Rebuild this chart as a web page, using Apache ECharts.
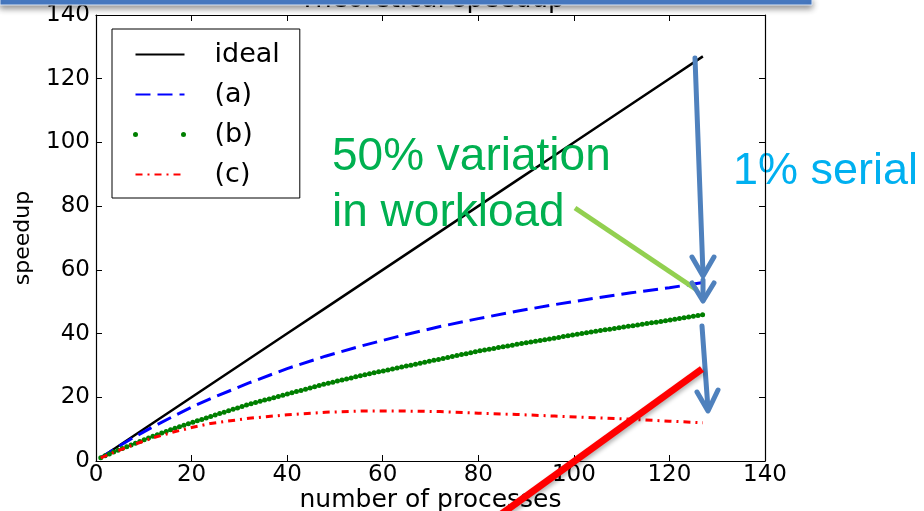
<!DOCTYPE html>
<html><head><meta charset="utf-8">
<script src="https://cdn.jsdelivr.net/npm/echarts@6/dist/echarts.min.js"></script>
<style>html,body{margin:0;padding:0;background:#fff}#c{width:924px;height:511px}</style>
</head><body><div id="c"></div>
<script>
// ---- data ----
const titleText = 'Theoretical speedup';
const xName = 'number of processes';
const yName = 'speedup';
const seriesNames = ['ideal', '(a)', '(b)', '(c)'];
const processes = [1, 2, 4, 8, 12, 16, 20, 24, 32, 40, 48, 56, 64, 72, 80, 88, 96, 104, 112, 120, 127];
const idealSpeedup = [1, 2, 4, 8, 12, 16, 20, 24, 32, 40, 48, 56, 64, 72, 80, 88, 96, 104, 112, 120, 127];
const speedupA = [1, 1.98, 3.9, 7.5, 10.8, 13.9, 16.9, 19.6, 24.5, 29.0, 32.9, 36.3, 39.4, 42.2, 44.7, 47.0, 49.1, 51.0, 52.8, 54.4, 56.0];
const speedupB = [1, 1.7, 3.0, 5.4, 7.8, 10.0, 12.0, 14.0, 17.8, 21.0, 24.2, 27.0, 29.5, 32.0, 34.5, 36.6, 38.6, 40.6, 42.4, 44.2, 45.9];
const speedupC = [1, 1.6, 2.9, 5.2, 7.3, 9.0, 10.5, 11.8, 13.4, 14.5, 15.3, 15.7, 15.7, 15.5, 15.0, 14.6, 14.1, 13.6, 13.1, 12.5, 12.0];
const axisMin = 0, axisMax = 140, tickStep = 20;
const note1 = ['50% variation', 'in workload'];
const note2 = '1% serial';

const pairs = ys => processes.map((p, i) => [p, ys[i]]);
const chartFont = 'DejaVu Sans';
const slideFont = 'Liberation Sans, Arial, sans-serif';

const baseX = {
  type: 'value', min: axisMin, max: axisMax, interval: tickStep,
  axisLine: { show: true, onZero: false, lineStyle: { color: '#000', width: 1.2 } },
  axisTick: { show: true, inside: true, length: 6, lineStyle: { color: '#000' } },
  splitLine: { show: false }
};
const chart = echarts.init(document.getElementById('c'));
chart.setOption({
  animation: false,
  backgroundColor: '#fff',
  title: {
    text: titleText, left: 432, top: -13, textAlign: 'center', padding: 0,
    textStyle: { fontFamily: chartFont, fontSize: 26, fontWeight: 'normal', color: '#000' }
  },
  grid: { left: 96, right: 159, top: 15, bottom: 50, containLabel: false, outerBoundsMode: 'none' },
  xAxis: [
    Object.assign({}, baseX, {
      position: 'bottom', name: xName, nameLocation: 'middle', nameGap: 27, nameMoveOverlap: false,
      nameTextStyle: { fontFamily: chartFont, fontSize: 25, color: '#000' },
      axisLabel: { margin: 3, fontFamily: chartFont, fontSize: 23, color: '#000' }
    }),
    Object.assign({}, baseX, { position: 'top', axisLabel: { show: false } })
  ],
  yAxis: [
    Object.assign({}, baseX, {
      position: 'left', name: yName, nameLocation: 'middle', nameGap: 62, nameRotate: 90, nameMoveOverlap: false,
      nameTextStyle: { fontFamily: chartFont, fontSize: 22, color: '#000' },
      axisLabel: { margin: 6, fontFamily: chartFont, fontSize: 23, color: '#000' }
    }),
    Object.assign({}, baseX, { position: 'right', axisLabel: { show: false } })
  ],
  legend: {
    orient: 'vertical', left: 112, top: 29,
    padding: [12, 20, 10, 21], itemGap: 13, itemWidth: 49, itemHeight: 28,
    borderColor: '#000', borderWidth: 1, backgroundColor: '#fff',
    itemStyle: { opacity: 0, borderWidth: 0 },
    textStyle: { fontFamily: chartFont, fontSize: 27, color: '#000', padding: [0, 0, 0, 25] },
    data: [
      { name: seriesNames[0] },
      { name: seriesNames[1] },
      { name: seriesNames[2], lineStyle: { type: [0, 48], cap: 'round', width: 5, color: '#007f00' } },
      { name: seriesNames[3] }
    ]
  },
  series: [
    { name: seriesNames[0], type: 'line', data: pairs(idealSpeedup), symbol: 'none',
      lineStyle: { color: '#000', width: 2.5 }, itemStyle: { color: '#000' }, z: 3 },
    { name: seriesNames[1], type: 'line', data: pairs(speedupA), symbol: 'none',
      lineStyle: { color: '#0000ff', width: 3, type: [15, 7] }, itemStyle: { color: '#0000ff' }, z: 3 },
    { name: seriesNames[2], type: 'line', data: pairs(speedupB), symbol: 'none',
      lineStyle: { color: '#007f00', width: 5, type: [0, 4.7], cap: 'round' }, itemStyle: { color: '#007f00' }, z: 3 },
    { name: seriesNames[3], type: 'line', data: pairs(speedupC), symbol: 'none',
      lineStyle: { color: '#ff0000', width: 3, type: [7, 5, 2, 5] }, itemStyle: { color: '#ff0000' }, z: 3 }
  ],
  graphic: [
    // slide box covering the title
    { type: 'rect', z: 100, shape: { x: 0, y: -2, width: 812, height: 7 },
      style: { fill: '#4a7fcb', stroke: '#dbe6f5', lineWidth: 1, shadowBlur: 6, shadowOffsetY: 3, shadowColor: 'rgba(0,0,0,0.45)' } },
    // annotation texts
    { type: 'text', z: 50, style: { text: note1[0], x: 332, y: 157, verticalAlign: 'middle', fill: '#00b050', font: '46px ' + slideFont } },
    { type: 'text', z: 50, style: { text: note1[1], x: 332, y: 213, verticalAlign: 'middle', fill: '#00b050', font: '46px ' + slideFont } },
    { type: 'text', z: -1, style: { text: note2, x: 733, y: 172, verticalAlign: 'middle', fill: '#00b0f0', font: '45px ' + slideFont } },
    // green pointer
    { type: 'line', z: 60, shape: { x1: 575, y1: 208, x2: 697, y2: 290 },
      style: { stroke: '#92d050', lineWidth: 5 } },
    // blue arrows
    { type: 'polyline', z: 60, shape: { points: [[695, 58], [703, 274]] }, style: { stroke: '#4f81bd', lineWidth: 5, lineCap: 'round' } },
    { type: 'polyline', z: 60, shape: { points: [[692, 257], [703, 276], [714, 257]] }, style: { stroke: '#4f81bd', lineWidth: 5, lineCap: 'round', lineJoin: 'round', fill: null } },
    { type: 'polyline', z: 60, shape: { points: [[703, 280], [703, 300]] }, style: { stroke: '#4f81bd', lineWidth: 5, lineCap: 'round' } },
    { type: 'polyline', z: 60, shape: { points: [[692, 283], [703, 301], [714, 283]] }, style: { stroke: '#4f81bd', lineWidth: 5, lineCap: 'round', lineJoin: 'round', fill: null } },
    { type: 'polyline', z: 60, shape: { points: [[702, 326], [708, 409]] }, style: { stroke: '#4f81bd', lineWidth: 5, lineCap: 'round' } },
    { type: 'polyline', z: 60, shape: { points: [[697, 392], [708, 411], [718, 390]] }, style: { stroke: '#4f81bd', lineWidth: 5, lineCap: 'round', lineJoin: 'round', fill: null } },
    // red line
    { type: 'line', z: 60, shape: { x1: 702, y1: 369, x2: 500, y2: 515 },
      style: { stroke: '#ff0000', lineWidth: 7, shadowBlur: 4, shadowOffsetX: 2, shadowOffsetY: 2, shadowColor: 'rgba(0,0,0,0.3)' } }
  ]
});
</script></body></html>
